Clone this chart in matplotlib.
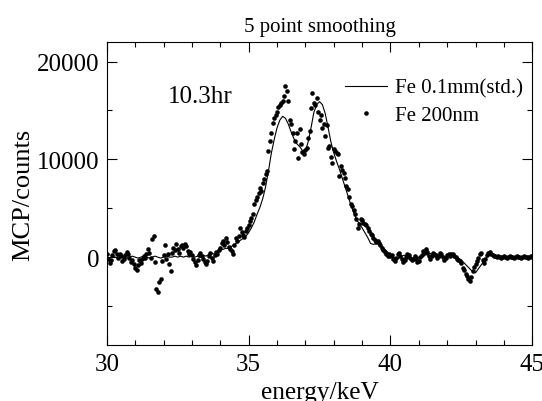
import numpy as np
import matplotlib
matplotlib.use('Agg')
import matplotlib.pyplot as plt
from matplotlib.ticker import MultipleLocator

plt.rcParams['font.family'] = ['Liberation Serif', 'DejaVu Serif']

# Fe 200nm (dots), one value every 0.05 keV from 30.00 to 45.00
dot_energy = np.round(np.arange(30.0, 45.0001, 0.05), 2)
dot_counts = [
    300, -200, -600, -300, 200, 600, 700, 300, -100, 300, 100, -400, -200, 200, 500, 300, -100, -500, -300, -700, -1100,
    -1300, -800, -300, -600, -200, 100, -100, 300, 800, 400, -100, 1900, 2200, -500, -3300, -3600, -2500, -2200, -400, 200,
    1200, -200, 300, -700, -1400, 400, 900, 700, 1300, 800, 400, 1100, 1200, 900, 1300, 1100, 600, 300, 500, 200,
    -200, -500, -800, -300, 200, 400, 100, -200, -500, -700, -400, 100, 400, -100, -400, 200, 500, 300, 700, 900,
    1400, 1700, 1200, 1950, 1500, 1000, 800, 600, 300, 1200, 2000, 1600, 2200, 3000, 2600, 2300, 2100, 2700, 3000, 3300,
    3700, 4000, 4400, 5400, 5800, 6100, 6600, 7100, 6800, 7600, 8000, 8500, 8800, 10900, 11900, 12700, 13700, 14200, 14500, 14800,
    15400, 15600, 15800, 16000, 16500, 17500, 17000, 16000, 14000, 13600, 12700, 11100, 11900, 12700, 10100, 13100, 11600, 10800, 10500, 11000,
    11200, 12200, 12900, 15300, 16800, 15800, 15600, 16300, 14800, 14000, 14500, 13200, 13600, 12400, 13500, 11200, 11400, 10200, 9600, 11100,
    10900, 10700, 10500, 8300, 9300, 8900, 8600, 8100, 7300, 7000, 6100, 5400, 5200, 4800, 4400, 3900, 3000, 3400, 3900, 3800,
    3500, 3400, 3300, 3000, 2700, 2400, 2300, 2000, 1800, 1500, 1600, 1400, 1200, 900, 700, 500, 300, 100, 300, 100,
    200, -200, -400, -100, 300, 400, 100, -200, -500, -300, 0, 300, 200, -100, -300, -200, 100, -200, -500, -400,
    0, 200, 600, 400, 800, 500, 100, -200, 100, 400, 300, 200, -100, 100, 400, 300, 0, -300, -100, 200,
    300, 100, 300, 300, 100, 0, -200, -300, -400, -600, -1100, -1300, -1700, -1950, -2200, -2400, -2000, -1400, -1000, -700,
    -400, -100, 300, 400, -300, -600, -200, 200, 400, 500, 300, 200, 100, 100, 0, 100, 0, -100, 0, 100,
    0, -100, 0, 100, 0, 0, -100, 0, 100, 0, 0, -100, 0, 100, 0, 0, -100, 0, 100, 0,
]

# Fe 0.1mm standard (line), one value every 0.1 keV from 30.0 to 45.0
std_energy = np.round(np.arange(30.0, 45.0001, 0.1), 1)
std_counts = [
    0, -100, 100, 0, -100, 100, 0, -100, 0, 100, 0,
    -100, 0, 100, 0, -100, 0, 100, 0, -100, 0,
    100, 0, 0, 100, 0, 100, 0, 100, 0, 100,
    0, 100, 0, 200, 100, 300, 400, 300, 500, 700,
    800, 900, 900, 1100, 1300, 1500, 1700, 1900, 2100, 2500,
    3000, 3600, 4400, 5100, 6000, 7200, 8800, 10600, 12000, 13200,
    14000, 14400, 14200, 13600, 12800, 12100, 11600, 11300, 10900, 10800,
    11800, 13200, 14800, 15600, 15900, 15600, 14700, 13300, 11800, 10700,
    9800, 9000, 8100, 7200, 6300, 5400, 4600, 3900, 3400, 3000,
    2500, 2000, 1400, 1300, 1400, 1400, 1100, 800, 500, 200,
    0, -200, -100, 100, 200, 0, -200, -100, 100, -100,
    100, 300, 200, 400, 200, 0, 200, 100, 0, 100,
    200, 100, 0, -100, -300, -600, -900, -1200, -1500, -1600,
    -1200, -800, -400, 0, 200, 100, 0, 100, 0, 0,
    0, 100, 0, 0, -100, 0, 0, 100, 0, 0,
]

fig = plt.figure(figsize=(5.42, 4.02), dpi=100)
ax = fig.add_axes([0.197, 0.139, 0.785, 0.754])

ax.plot(std_energy, std_counts, color='black', linewidth=0.8, label='Fe 0.1mm(std.)')
ax.plot(dot_energy, dot_counts, 'o', color='black', markersize=3.3, markeredgewidth=0,
        label='Fe 200nm')

ax.set_xlim(30, 45)
ax.set_ylim(-9000, 22000)
ax.xaxis.set_major_locator(MultipleLocator(5))
ax.xaxis.set_minor_locator(MultipleLocator(1))
ax.yaxis.set_major_locator(MultipleLocator(10000))
ax.yaxis.set_minor_locator(MultipleLocator(5000))
ax.tick_params(which='both', direction='in', top=True, right=True, width=0.8, labelsize=18)
ax.tick_params(which='major', length=7)
ax.tick_params(which='minor', length=3.6)
ax.tick_params(axis='x', pad=6)
ax.tick_params(axis='y', pad=5)
for sp in ax.spines.values():
    sp.set_linewidth(0.8)

ax.set_xlabel('energy/keV', fontsize=18.3, labelpad=4)
ax.set_ylabel('MCP/counts', fontsize=19, labelpad=2)
ax.set_title('5 point smoothing', fontsize=15, pad=8)

ax.text(0.1435, 0.822, '10.3hr', transform=ax.transAxes, fontsize=18, ha='left', va='center')

ax.legend(loc='upper left', bbox_to_anchor=(0.56, 0.88), frameon=False, fontsize=15,
          handlelength=2.0, handletextpad=0.4, labelspacing=0.35, borderaxespad=0,
          borderpad=0, markerscale=1.0)

fig.savefig('out.png', dpi=100)
